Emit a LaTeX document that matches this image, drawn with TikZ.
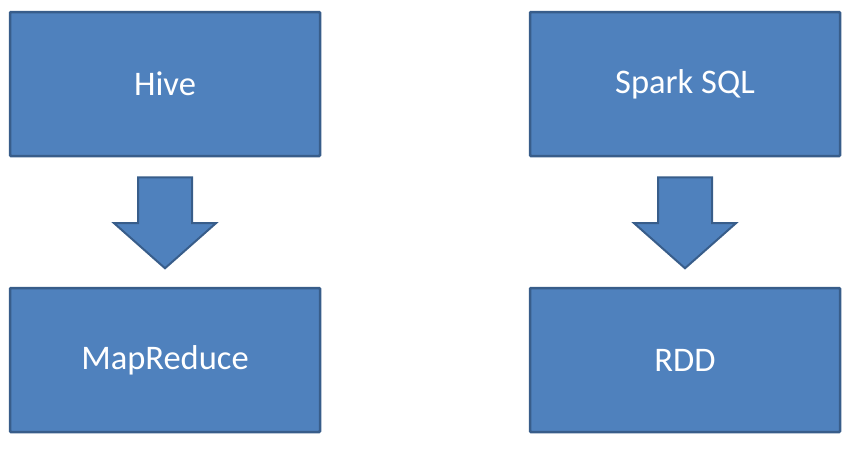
\documentclass[tikz,border=0pt]{standalone}
\usepackage{fontspec}
\setmainfont{Carlito}
\usetikzlibrary{shapes.arrows,calc}

\definecolor{boxfill}{RGB}{79,129,189}
\definecolor{boxline}{RGB}{56,93,138}

\tikzset{
  layerbox/.style={draw=boxline, fill=boxfill, line width=2.5pt, rounded corners=1pt,
    minimum width=310pt, minimum height=144pt, text=white,
    font=\fontsize{34.5}{40}\selectfont},
  blockarrow/.style={draw=boxline, fill=boxfill, line width=2pt, shape=single arrow,
    rotate=-90, anchor=tail, inner xsep=0pt, inner ysep=26pt, minimum height=91pt,
    minimum width=100pt, single arrow head extend=24pt, single arrow tip angle=97},
}

\begin{document}
\begin{tikzpicture}[x=1pt, y=-1pt]
  \useasboundingbox (0,0) rectangle (848,448);
  % top layer
  \node[layerbox] (hive) at (165,84) {Hive};
  \node[layerbox] (sparksql) at (685,84) {Spark SQL};
  % bottom layer
  \node[layerbox] (mapreduce) at (165,360) {MapReduce};
  \node[layerbox] (rdd) at (685,360) {RDD};
  % block arrows between the layers
  \node[blockarrow] (hivearrow) at ($(hive.south)+(0,19)$) {};
  \node[blockarrow] (sparkarrow) at ($(sparksql.south)+(0,19)$) {};
\end{tikzpicture}
\end{document}
